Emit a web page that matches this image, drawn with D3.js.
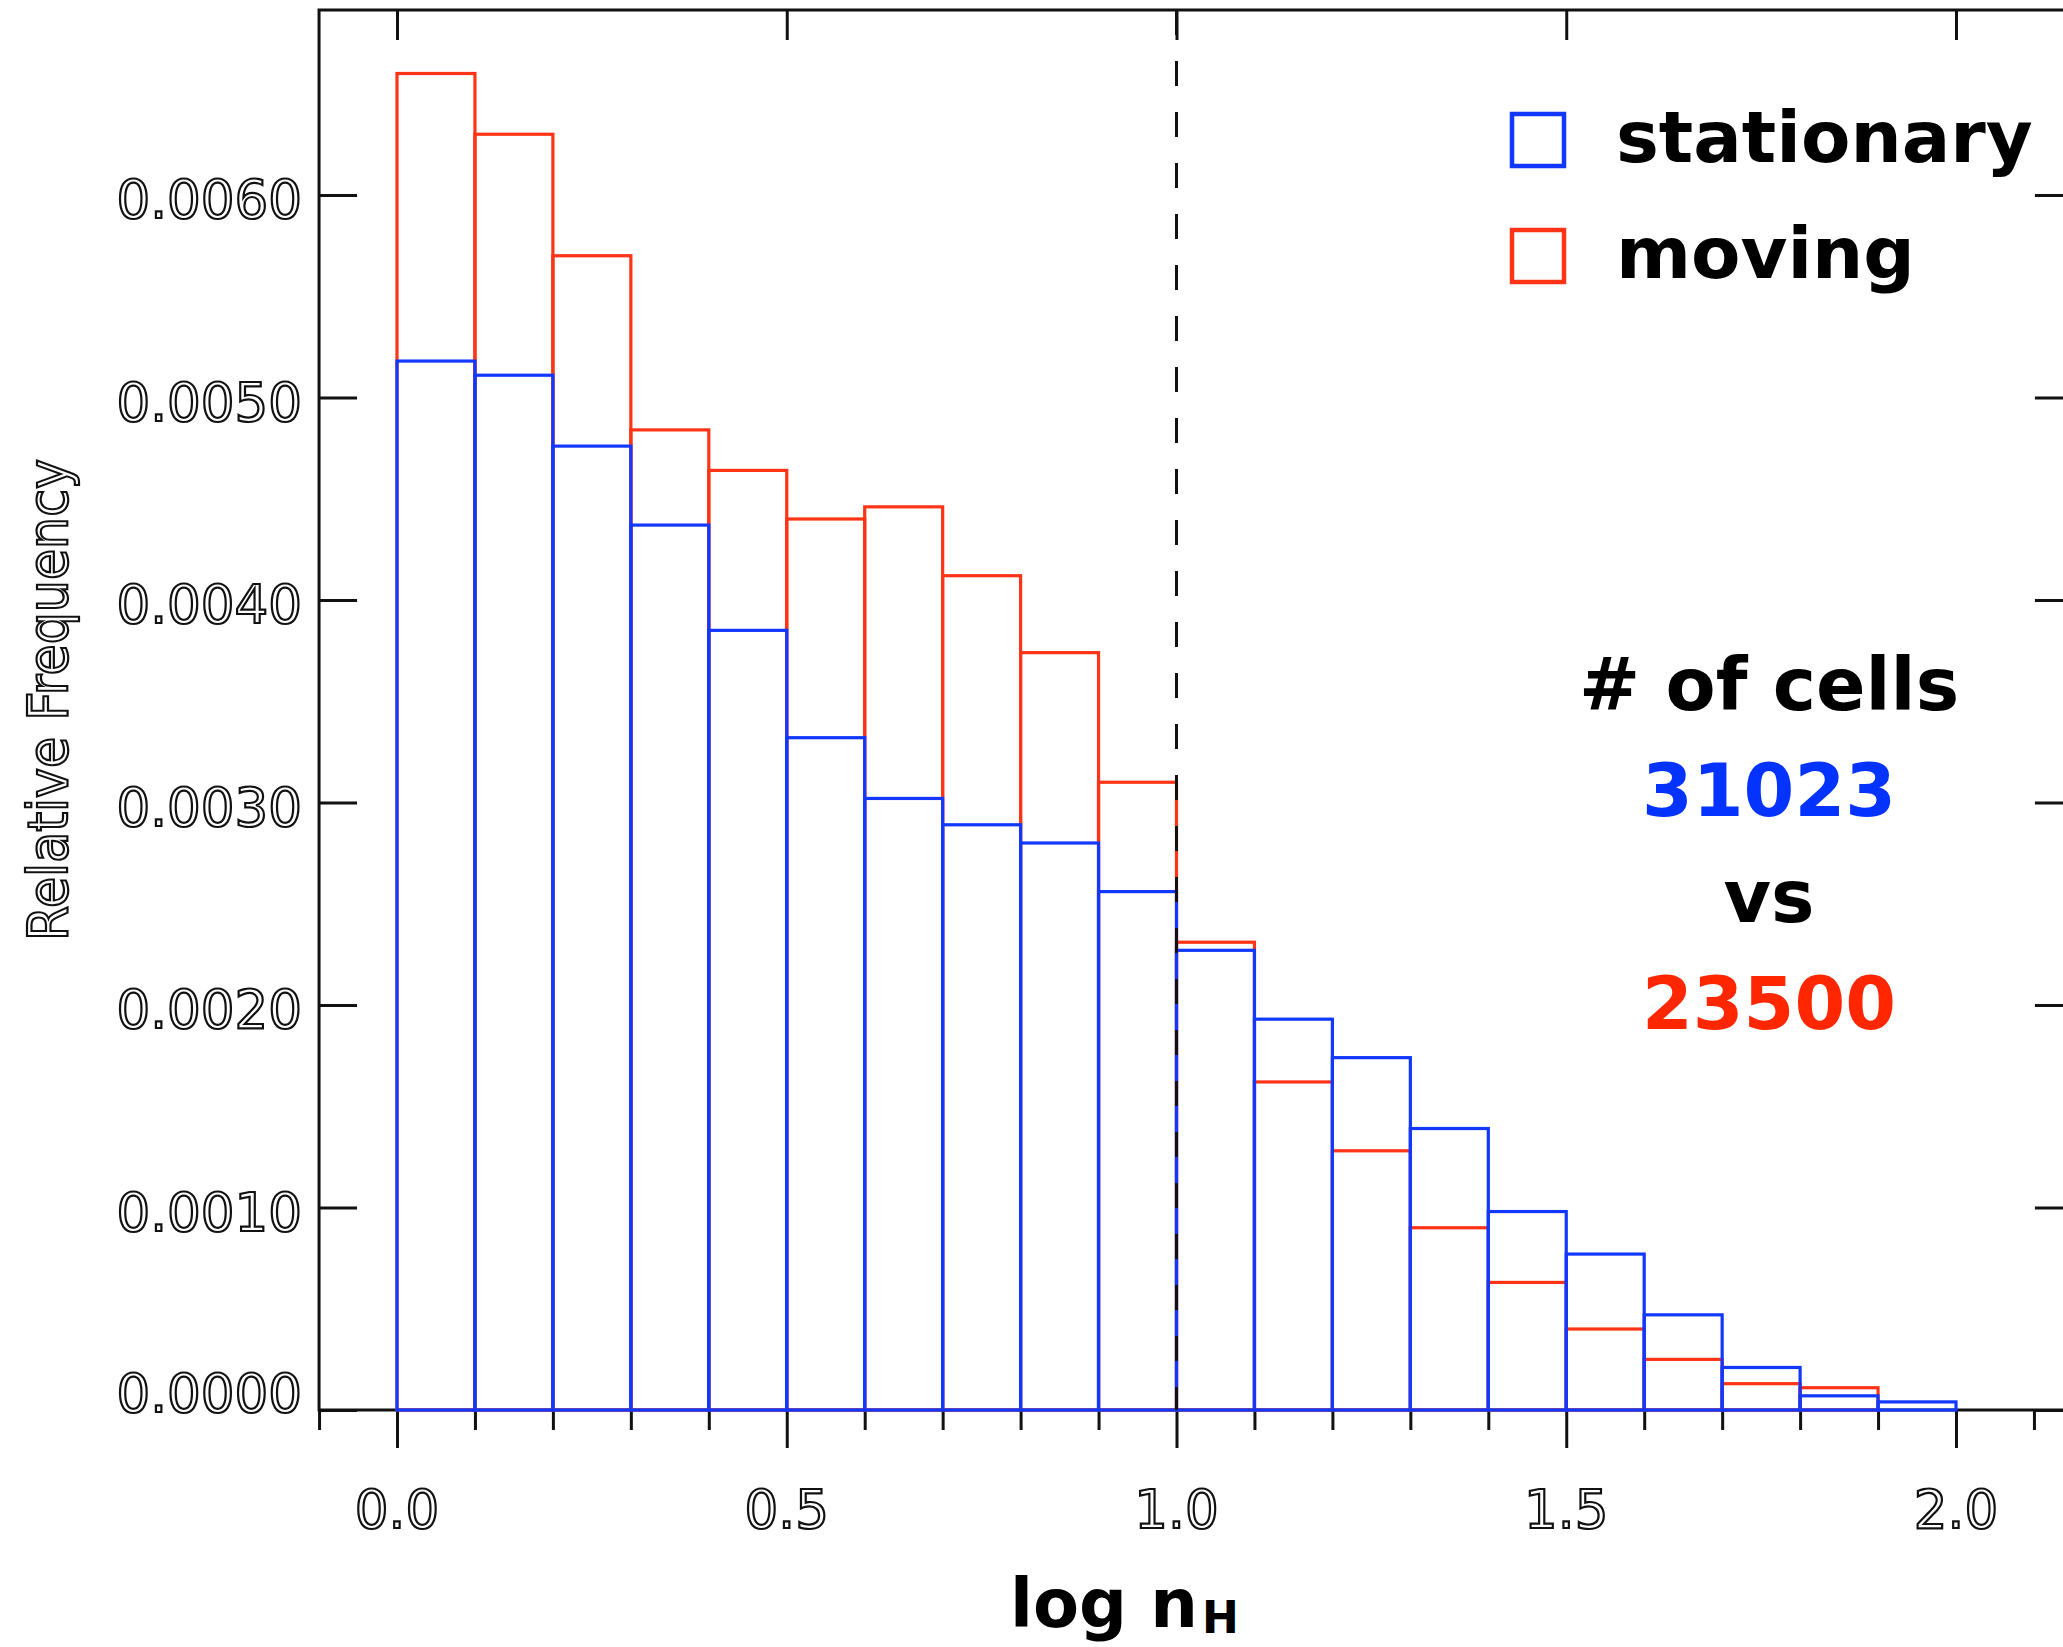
<!DOCTYPE html>
<html>
<head>
<meta charset="utf-8">
<script src="https://cdn.jsdelivr.net/npm/d3@7"></script>
<style>
  html, body { margin: 0; padding: 0; background: #fff; }
  svg { display: block; }
</style>
</head>
<body>
<svg id="chart" width="2063" height="1647"></svg>
<script>
// histogram bins (log nH), lower edges, width 0.1
const binStarts = [0.0, 0.1, 0.2, 0.3, 0.4, 0.5, 0.6, 0.7, 0.8, 0.9,
                   1.0, 1.1, 1.2, 1.3, 1.4, 1.5, 1.6, 1.7, 1.8, 1.9];
const binWidth = 0.1;

// relative frequency
const stationary = [0.00518, 0.00511, 0.00476, 0.00437, 0.00385, 0.00332, 0.00302, 0.00289, 0.00280, 0.00256,
                    0.00227, 0.00193, 0.00174, 0.00139, 0.00098, 0.00077, 0.00047, 0.00021, 0.00007, 0.00004];
const moving     = [0.00660, 0.00630, 0.00570, 0.00484, 0.00464, 0.00440, 0.00446, 0.00412, 0.00374, 0.00310,
                    0.00231, 0.00162, 0.00128, 0.00090, 0.00063, 0.00040, 0.00025, 0.00013, 0.00011, 0.00000];

const xMajor = [0.0, 0.5, 1.0, 1.5, 2.0];
const xMinor = [-0.1, 0.1, 0.2, 0.3, 0.4, 0.6, 0.7, 0.8, 0.9, 1.1, 1.2, 1.3, 1.4, 1.6, 1.7, 1.8, 1.9, 2.1];
const yTicks = [0.000, 0.001, 0.002, 0.003, 0.004, 0.005, 0.006];
const yTickLabels = ["0.0000", "0.0010", "0.0020", "0.0030", "0.0040", "0.0050", "0.0060"];

const series = [
  { name: "moving", values: moving, color: "#ff3416", count: "23500" },
  { name: "stationary", values: stationary, color: "#1238ff", count: "31023" }
];
const cutLine = 1.0;

const svg = d3.select("#chart");

// scales (plot is cropped on the right, as in the source figure)
const x = d3.scaleLinear().domain([0, 2]).range([397, 1956]);
const y = d3.scaleLinear().domain([0, 0.006]).range([1410, 195]);
const xLeft = -0.1, xRight = 2.15;
const topY = 10;

const black = "#111";
const hollow = g => g.attr("font-family", "DejaVu Sans")
  .attr("fill", "#fff").attr("stroke", black).attr("stroke-width", 2.2);

// frame
svg.append("path")
  .attr("d", `M${x(xRight)},${topY} H${x(xLeft)} V${y(0)} H${x(xRight)} Z`)
  .attr("fill", "none").attr("stroke", black).attr("stroke-width", 3);

// bottom axis: majors and minors, pointing down
const bottomAxis = svg.append("g").attr("transform", `translate(0,${y(0)})`);
bottomAxis.call(d3.axisBottom(x).tickValues(xMajor).tickSize(38).tickFormat(""))
  .call(g => g.select(".domain").remove());
bottomAxis.append("g").call(d3.axisBottom(x).tickValues(xMinor).tickSize(20).tickFormat(""))
  .call(g => g.select(".domain").remove());
bottomAxis.selectAll("line").attr("stroke", black).attr("stroke-width", 3);

// top axis: majors only, pointing in
const topAxis = svg.append("g").attr("transform", `translate(0,${topY})`);
topAxis.call(d3.axisBottom(x).tickValues(xMajor).tickSize(30).tickFormat(""))
  .call(g => g.select(".domain").remove());
topAxis.selectAll("line").attr("stroke", black).attr("stroke-width", 3);

// left / right ticks pointing in
const leftAxis = svg.append("g").attr("transform", `translate(${x(xLeft)},0)`);
leftAxis.call(d3.axisRight(y).tickValues(yTicks).tickSize(38).tickFormat(""))
  .call(g => g.select(".domain").remove());
leftAxis.selectAll("line").attr("stroke", black).attr("stroke-width", 3);

const rightAxis = svg.append("g").attr("transform", `translate(${x(xRight)},0)`);
rightAxis.call(d3.axisLeft(y).tickValues(yTicks).tickSize(38).tickFormat(""))
  .call(g => g.select(".domain").remove());
rightAxis.selectAll("line").attr("stroke", black).attr("stroke-width", 3);

// tick labels (hollow, vector-font look)
svg.append("g").selectAll("text")
  .data(xMajor)
  .enter().append("text")
  .attr("x", d => x(d))
  .attr("y", 1528)
  .attr("text-anchor", "middle")
  .attr("font-size", 53)
  .call(hollow)
  .text(d => d.toFixed(1));

svg.append("g").selectAll("text")
  .data(yTicks)
  .enter().append("text")
  .attr("x", 302)
  .attr("y", d => y(d) + (d === 0 ? 2 : 23))
  .attr("text-anchor", "end")
  .attr("font-size", 53)
  .call(hollow)
  .text((d, i) => yTickLabels[i]);

// axis titles
svg.append("text")
  .attr("transform", "translate(67,700) rotate(-90)")
  .attr("text-anchor", "middle")
  .attr("font-size", 55)
  .attr("textLength", 482)
  .attr("lengthAdjust", "spacingAndGlyphs")
  .call(hollow)
  .text("Relative Frequency");

const xTitle = svg.append("text")
  .attr("x", 1010)
  .attr("y", 1627)
  .attr("font-family", "DejaVu Sans")
  .attr("font-weight", "bold")
  .attr("font-size", 67)
  .attr("fill", "#000");
xTitle.append("tspan").text("log n");
xTitle.append("tspan").attr("font-size", 44).attr("dy", 6).attr("dx", 4).text("H");

// histograms: outlined bars, moving first then stationary on top
series.forEach(s => {
  svg.append("g").attr("class", "hist-" + s.name)
    .selectAll("rect")
    .data(binStarts.map((b, i) => ({ x0: b, v: s.values[i] })))
    .enter().append("rect")
    .attr("x", d => x(d.x0))
    .attr("y", d => y(d.v))
    .attr("width", d => x(d.x0 + binWidth) - x(d.x0))
    .attr("height", d => y(0) - y(d.v))
    .attr("fill", "none")
    .attr("stroke", s.color)
    .attr("stroke-width", 3.2);
});

// dashed line at log nH = 1
svg.append("line")
  .attr("x1", x(cutLine)).attr("x2", x(cutLine))
  .attr("y1", topY).attr("y2", y(0))
  .attr("stroke", black)
  .attr("stroke-width", 3)
  .attr("stroke-dasharray", "25,26");

// legend
const legendItems = [series[1], series[0]];
const legend = svg.append("g").selectAll("g")
  .data(legendItems)
  .enter().append("g")
  .attr("transform", (d, i) => `translate(1512,${114 + i * 116})`);
legend.append("rect")
  .attr("width", 52).attr("height", 52)
  .attr("fill", "none")
  .attr("stroke", d => d.color)
  .attr("stroke-width", 4.5);
legend.append("text")
  .attr("x", 104)
  .attr("y", 48)
  .attr("font-family", "DejaVu Sans")
  .attr("font-weight", "bold")
  .attr("font-size", 72)
  .attr("fill", "#000")
  .text(d => d.name);

// cell counts
const notes = [
  { text: "# of cells", color: "#000", y: 710 },
  { text: series[1].count, color: "#0433ff", y: 816 },
  { text: "vs", color: "#000", y: 922 },
  { text: series[0].count, color: "#ff2600", y: 1029 }
];
svg.append("g").selectAll("text")
  .data(notes)
  .enter().append("text")
  .attr("x", 1769)
  .attr("y", d => d.y)
  .attr("text-anchor", "middle")
  .attr("font-family", "DejaVu Sans")
  .attr("font-weight", "bold")
  .attr("font-size", 73)
  .attr("fill", d => d.color)
  .text(d => d.text);
</script>
</body>
</html>
